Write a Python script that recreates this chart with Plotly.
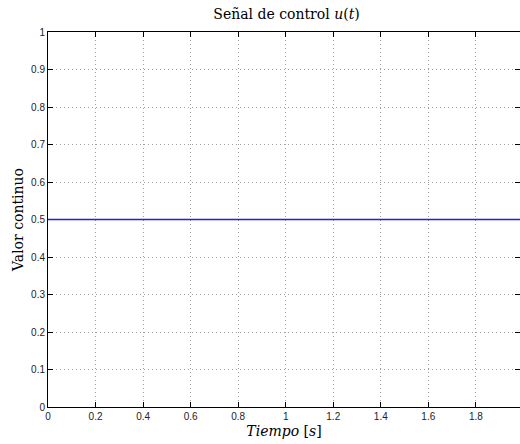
import plotly.graph_objects as go

time_s = [0.0, 0.5, 1.0, 1.5, 2.0]
u_vals = [0.5, 0.5, 0.5, 0.5, 0.5]
x_ticks = [0, 0.2, 0.4, 0.6, 0.8, 1, 1.2, 1.4, 1.6, 1.8]
x_tick_labels = ["0", "0.2", "0.4", "0.6", "0.8", "1", "1.2", "1.4", "1.6", "1.8"]
y_ticks = [0, 0.1, 0.2, 0.3, 0.4, 0.5, 0.6, 0.7, 0.8, 0.9, 1]
y_tick_labels = ["0", "0.1", "0.2", "0.3", "0.4", "0.5", "0.6", "0.7", "0.8", "0.9", "1"]

serif = "DejaVu Serif, Liberation Serif, serif"

fig = go.Figure()
fig.add_trace(go.Scatter(x=time_s, y=u_vals, mode="lines",
                         line=dict(color="#2020e0", width=1.3), showlegend=False))

axis_common = dict(
    showline=True, linecolor="black", linewidth=1, mirror="ticks",
    ticks="inside", ticklen=5, tickcolor="black",
    showgrid=True, gridcolor="#a0a0a0", griddash="1px,3px", gridwidth=1,
    zeroline=False, layer="below traces",
    tickfont=dict(family="Liberation Sans, Arial, sans-serif", size=10, color="#222"),
)

fig.update_layout(
    width=520, height=444,
    margin=dict(l=48, r=0, t=32, b=37),
    paper_bgcolor="white", plot_bgcolor="white",
    title=dict(text="Señal de control <i>u</i>(<i>t</i>)", x=0.551, xanchor="center",
               y=0.968, yanchor="middle",
               font=dict(family=serif, size=14, color="black")),
    xaxis=dict(range=[0, 1.9857], tickvals=x_ticks, ticktext=x_tick_labels,
               title=dict(text="<i>Tiempo</i> [<i>s</i>]", standoff=5,
                          font=dict(family=serif, size=14, color="black")),
               **axis_common),
    yaxis=dict(range=[0, 1], tickvals=y_ticks, ticktext=y_tick_labels,
               title=dict(text="Valor continuo", standoff=4,
                          font=dict(family=serif, size=14, color="black")),
               **axis_common),
)

fig.write_html("out.html")
